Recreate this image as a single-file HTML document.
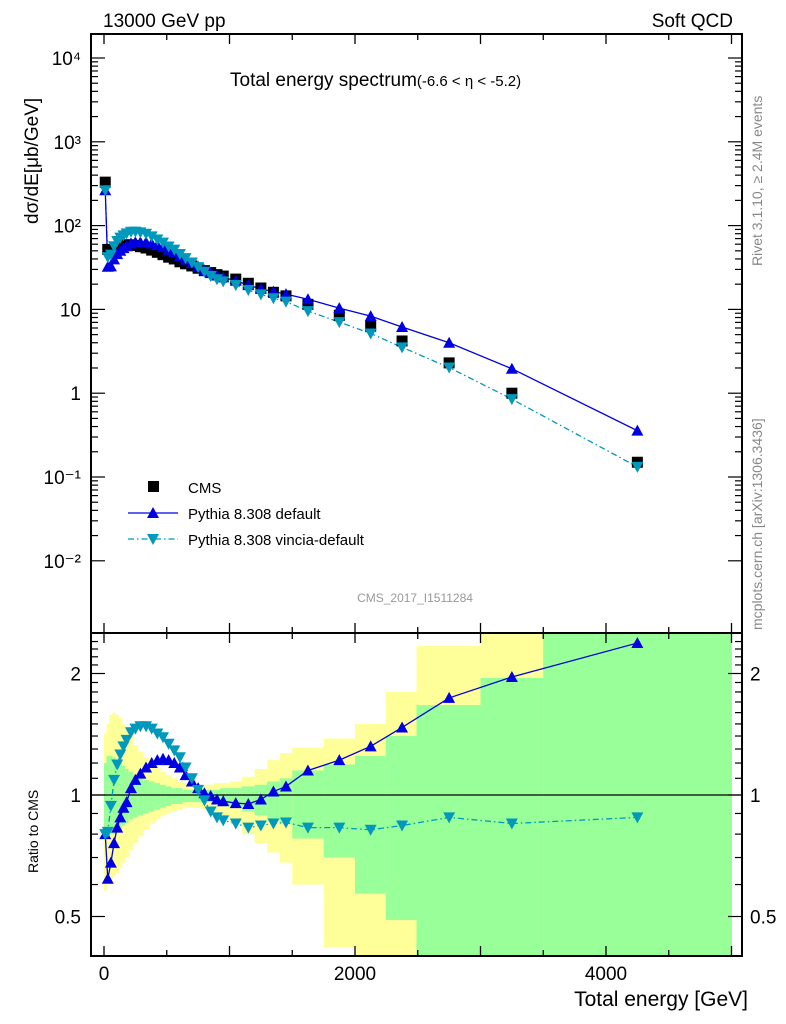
<!DOCTYPE html>
<html><head><meta charset="utf-8"><style>
body{margin:0;background:#fff;}
svg{display:block;font-family:"Liberation Sans",sans-serif;}
</style></head><body>
<svg id="chart" width="786" height="1024" viewBox="0 0 786 1024" xmlns="http://www.w3.org/2000/svg">
<defs>
<clipPath id="mainClip"><rect x="91" y="34" width="651" height="599"/></clipPath>
<clipPath id="ratioClip"><rect x="91" y="633" width="651" height="323"/></clipPath>
</defs>
<text x="103" y="27" font-size="19">13000 GeV pp</text>
<text x="733" y="27" font-size="19" text-anchor="end">Soft QCD</text>
<text x="230" y="86" font-size="19">Total energy spectrum<tspan font-size="15">(-6.6 &lt; η &lt; -5.2)</tspan></text>
<text transform="translate(38,224) rotate(-90)" font-size="19">dσ/dE[μb/GeV]</text>
<text transform="translate(38,873) rotate(-90)" font-size="14">Ratio to CMS</text>
<text x="748" y="1006" font-size="21" text-anchor="end">Total energy [GeV]</text>
<text transform="translate(762,266) rotate(-90)" font-size="14" fill="#888">Rivet 3.1.10, ≥ 2.4M events</text>
<text transform="translate(762,630) rotate(-90)" font-size="14" fill="#888">mcplots.cern.ch [arXiv:1306.3436]</text>
<text x="415" y="602" font-size="12" fill="#999" text-anchor="middle">CMS_2017_I1511284</text>
<g id="bands" clip-path="url(#ratioClip)"></g>
<g id="mainMarks" clip-path="url(#mainClip)"></g>
<g id="ratioMarks" clip-path="url(#ratioClip)"></g>
<g id="axes"></g>
<g id="legend">
<rect x="148" y="481" width="11" height="11" fill="#000"/>
<text x="188" y="493" font-size="15">CMS</text>
<line x1="128" y1="513" x2="178" y2="513" stroke="#0000e0" stroke-width="1.3"/>
<polygon points="153,507 159,518 147,518" fill="#0000e0"/>
<text x="188" y="519" font-size="15">Pythia 8.308 default</text>
<line x1="128" y1="539" x2="178" y2="539" stroke="#0099bb" stroke-width="1.3" stroke-dasharray="6,3,1.5,3"/>
<polygon points="147,534 159,534 153,545" fill="#0099bb"/>
<text x="188" y="545" font-size="15">Pythia 8.308 vincia-default</text>
</g>
</svg>
<script>
const energies=[10,30,55,80,105,130,155,180,215,250,290,335,380,425,470,515,560,605,650,700,750,800,850,900,950,1050,1150,1250,1350,1450,1625,1875,2125,2375,2750,3250,4250];
const binEdges=[0,20,42,67,92,117,142,167,197,232,270,312,357,402,447,492,537,582,627,675,725,775,825,875,925,1000,1100,1200,1300,1400,1500,1750,2000,2245,2490,3000,3500,5000];
const cmsValues=[330,52,48,52,55,57,58,59,59,58,56,54,51,48,45,42,40,37,35,33,31,29,27.5,26,25,23,20.5,18,16,14.5,11.5,8.5,6.3,4.2,2.3,1.0,0.15];
const ratioDefault=[0.8,0.62,0.68,0.76,0.83,0.88,0.93,0.96,1.04,1.09,1.13,1.17,1.2,1.22,1.23,1.22,1.2,1.17,1.12,1.08,1.04,1.01,0.995,0.975,0.965,0.955,0.95,0.975,1.02,1.05,1.15,1.22,1.32,1.47,1.74,1.96,2.38];
const ratioVincia=[0.8,0.81,0.94,1.09,1.19,1.26,1.32,1.37,1.43,1.46,1.48,1.48,1.46,1.42,1.39,1.34,1.29,1.24,1.17,1.1,1.03,0.97,0.91,0.88,0.865,0.85,0.83,0.84,0.85,0.855,0.83,0.83,0.82,0.84,0.88,0.85,0.88];
const yellowUp=[1.42,1.5,1.58,1.6,1.58,1.55,1.5,1.45,1.4,1.33,1.28,1.24,1.2,1.17,1.14,1.12,1.1,1.08,1.07,1.06,1.06,1.06,1.06,1.07,1.07,1.08,1.11,1.16,1.22,1.27,1.31,1.38,1.5,1.8,2.34,2.6,2.6];
const yellowDown=[0.58,0.6,0.62,0.63,0.64,0.66,0.68,0.7,0.73,0.76,0.79,0.82,0.85,0.87,0.89,0.9,0.91,0.92,0.93,0.93,0.93,0.92,0.91,0.9,0.88,0.85,0.8,0.76,0.72,0.68,0.6,0.42,0.38,0.38,0.38,0.38,0.38];
const greenUp=[1.2,1.25,1.25,1.24,1.22,1.2,1.18,1.16,1.14,1.12,1.1,1.09,1.08,1.07,1.06,1.05,1.04,1.04,1.03,1.03,1.03,1.03,1.03,1.03,1.04,1.04,1.05,1.06,1.08,1.1,1.15,1.19,1.25,1.4,1.67,1.95,2.6];
const greenDown=[0.8,0.81,0.8,0.8,0.81,0.82,0.84,0.85,0.87,0.88,0.89,0.9,0.91,0.92,0.93,0.94,0.95,0.95,0.96,0.96,0.96,0.96,0.96,0.95,0.94,0.93,0.91,0.89,0.87,0.85,0.78,0.7,0.57,0.49,0.38,0.38,0.38];
const xTicks=[0,2000,4000];
const mainYTicks=[-2,-1,0,1,2,3,4];
const mainYLabels=["10⁻²","10⁻¹","1","10","10²","10³","10⁴"];
const ratioYTicks=[0.5,1,2];

const NS="http://www.w3.org/2000/svg";
const L=91,R=742,MT=34,MB=633,RB=956;
function xs(e){return 104+e*0.1255;}
function ym(v){return 58+(4-Math.log10(v))*83.8;}
function yr(r){return 795-Math.log2(r)*121.5;}
function mk(tag,attrs,parent){const el=document.createElementNS(NS,tag);for(const k in attrs)el.setAttribute(k,attrs[k]);parent.appendChild(el);return el;}

const bands=document.getElementById('bands');
for(let i=0;i<energies.length;i++){
  const x0=xs(binEdges[i]),x1=xs(binEdges[i+1]);
  const yb=mk('rect',{x:x0,y:yr(yellowUp[i]),width:x1-x0+0.5,height:yr(yellowDown[i])-yr(yellowUp[i]),fill:'#ffff99'},bands);
  
  
  const gb=mk('rect',{x:x0,y:yr(greenUp[i]),width:x1-x0+0.5,height:yr(greenDown[i])-yr(greenUp[i]),fill:'#99ff99'},bands);
  
  
}

const mm=document.getElementById('mainMarks');
const rm=document.getElementById('ratioMarks');
const dflt=energies.map((e,i)=>cmsValues[i]*ratioDefault[i]);
const vinc=energies.map((e,i)=>cmsValues[i]*ratioVincia[i]);
function tri(parent,x,y,up,color,name){
  const p=up?`${x},${y-6} ${x+6},${y+5} ${x-6},${y+5}`:`${x-6},${y-5} ${x+6},${y-5} ${x},${y+6}`;
  const t=mk('polygon',{points:p,fill:color},parent);
  
  
}
const lv=mk('polyline',{points:energies.map((e,i)=>xs(e)+','+ym(vinc[i])).join(' '),fill:'none',stroke:'#0099bb','stroke-width':1.3,'stroke-dasharray':'6,3,1.5,3'},mm);


const ld=mk('polyline',{points:energies.map((e,i)=>xs(e)+','+ym(dflt[i])).join(' '),fill:'none',stroke:'#0000e0','stroke-width':1.3},mm);


energies.forEach((e,i)=>{
  const s=mk('rect',{x:xs(e)-5.5,y:ym(cmsValues[i])-5.5,width:11,height:11,fill:'#000'},mm);
  
  
});
energies.forEach((e,i)=>{tri(mm,xs(e),ym(dflt[i]),true,'#0000e0','default-point');});
energies.forEach((e,i)=>{tri(mm,xs(e),ym(vinc[i]),false,'#0099bb','vincia-point');});
const one=mk('line',{x1:L,x2:R,y1:yr(1),y2:yr(1),stroke:'#000','stroke-width':1.3},rm);


const rv=mk('polyline',{points:energies.map((e,i)=>xs(e)+','+yr(ratioVincia[i])).join(' '),fill:'none',stroke:'#0099bb','stroke-width':1.3,'stroke-dasharray':'6,3,1.5,3'},rm);


const rd=mk('polyline',{points:energies.map((e,i)=>xs(e)+','+yr(ratioDefault[i])).join(' '),fill:'none',stroke:'#0000e0','stroke-width':1.3},rm);


energies.forEach((e,i)=>{tri(rm,xs(e),yr(ratioDefault[i]),true,'#0000e0','default-ratio-point');});
energies.forEach((e,i)=>{tri(rm,xs(e),yr(ratioVincia[i]),false,'#0099bb','vincia-ratio-point');});

const ax=document.getElementById('axes');
const f1=mk('rect',{x:L,y:MT,width:R-L,height:MB-MT,fill:'none',stroke:'#000','stroke-width':2},ax);


const f2=mk('rect',{x:L,y:MB,width:R-L,height:RB-MB,fill:'none',stroke:'#000','stroke-width':2},ax);


for(let e=0;e<=5000;e+=500){
  const big=e%1000===0, x=xs(e), h=big?10:6;
  [[MT,MT+h],[MB,MB-h],[MB,MB+h],[RB,RB-h]].forEach(p=>{
    const t=mk('line',{x1:x,x2:x,y1:p[0],y2:p[1],stroke:'#000','stroke-width':1.3},ax);
    
    
  });
}
xTicks.forEach(e=>{
  const t=mk('text',{x:xs(e),y:980,'font-size':19,'text-anchor':'middle'},ax);
  t.textContent=e;
  
  
});
mainYTicks.forEach((d,i)=>{
  for(let m=1;m<10;m++){
    const y=ym(Math.pow(10,d)*m); if(y<MT||y>MB)continue;
    const w=m===1?14:7;
    [[L,L+w],[R,R-w]].forEach(p=>{
      const t=mk('line',{x1:p[0],x2:p[1],y1:y,y2:y,stroke:'#000','stroke-width':1.2},ax);
      
      
    });
  }
  const t=mk('text',{x:81,y:ym(Math.pow(10,d))+7,'font-size':19,'text-anchor':'end'},ax);
  t.textContent=mainYLabels[i];
  
  
});
for(let r=0.4;r<=2.5;r+=0.1){
  const rr=Math.round(r*10)/10, y=yr(rr); if(y<MB||y>RB)continue;
  const big=(rr===0.5||rr===1||rr===2), w=big?14:7;
  [[L,L+w],[R,R-w]].forEach(p=>{
    const t=mk('line',{x1:p[0],x2:p[1],y1:y,y2:y,stroke:'#000','stroke-width':1.2},ax);
    
    
  });
}
ratioYTicks.forEach(r=>{
  [[81,'end'],[750,'start']].forEach(p=>{
    const t=mk('text',{x:p[0],y:yr(r)+7,'font-size':19,'text-anchor':p[1]},ax);
    t.textContent=r;
    
    
  });
});
</script>
</body></html>
